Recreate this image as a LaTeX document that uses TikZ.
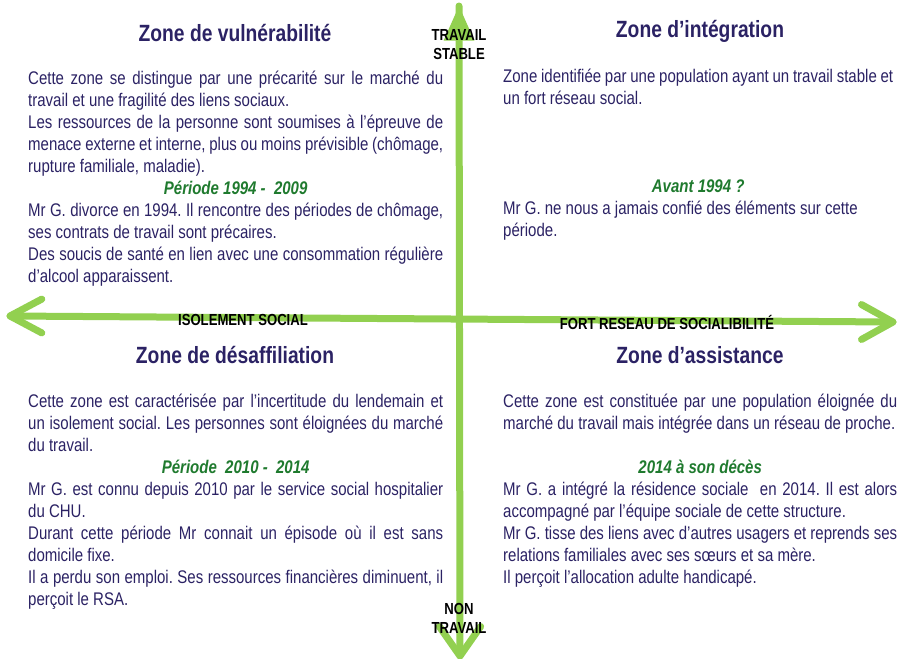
\documentclass[tikz,border=0pt]{standalone}
\usepackage{fontspec}
\setmainfont{Liberation Sans}[FakeStretch=0.82]
\definecolor{axisgreen}{HTML}{92D050}
\definecolor{zonenavy}{HTML}{2B2264}
\definecolor{periodgreen}{HTML}{1F7A2E}
\newcommand{\period}{\centering\color{periodgreen}\bfseries\itshape}
\tikzset{
  axis/.style = {draw=axisgreen, line width=7pt, line cap=round, line join=round},
  zonetitle/.style = {font=\bfseries\fontsize{23.5}{28}\selectfont, text=zonenavy, anchor=base},
  zonetext/.style = {font=\fontsize{18.3}{22}\selectfont, text=zonenavy, align=justify,
    inner sep=0pt, anchor=base west},
  axislabel/.style = {font=\bfseries\fontsize{16}{19}\selectfont, align=center, anchor=base}
}
\hyphenpenalty=10000
\frenchspacing

\begin{document}
\begin{tikzpicture}[x=1pt,y=-1pt]
  \useasboundingbox (0,0) rectangle (903,659);
  \pgfmathsetmacro{\barb}{36}
  % axes
  \coordinate (west) at (10,316);
  \coordinate (east) at (893,322);
  \coordinate (north) at (459,6);
  \coordinate (south) at (460,656);
  \draw[axis] (west) -- (east);
  \draw[axis] (north) -- (south);
  \foreach \tip/\dir/\spread in {west/0/28, east/180/29, south/270/35} {%
    \draw[axis] ([shift={(\dir+\spread:\barb)}]\tip) -- (\tip) -- ([shift={(\dir-\spread:\barb)}]\tip);
  }
  \fill[axisgreen] (north) -- +(90+24:38) -- +(90-24:38) -- cycle;
  \node[axislabel] (stable) at (459,59) {TRAVAIL\\STABLE};
  \node[axislabel] (nowork) at (459,633) {NON\\TRAVAIL};
  \node[axislabel] (isolation) at (243,325) {ISOLEMENT SOCIAL};
  \node[axislabel] (network) at (667,329) {FORT RESEAU DE SOCIALIBILITÉ};
  % zone titles
  \node[zonetitle] (vulntitle) at (235,41) {Zone de vulnérabilité};
  \node[zonetitle] (integtitle) at (700,37) {Zone d’intégration};
  \node[zonetitle] (desaftitle) at (235,363) {Zone de désaffiliation};
  \node[zonetitle] (assisttitle) at (700,363) {Zone d’assistance};
  % zone texts
  \node[zonetext, text width=415pt] (vulntext) at (28,84) {%
    Cette zone se distingue par une précarité sur le marché du\linebreak
    travail et une fragilité des liens sociaux.\par
    Les ressources de la personne sont soumises à l’épreuve de\linebreak
    menace externe et interne, plus ou moins prévisible (chômage,\linebreak
    rupture familiale, maladie).\par
    {\period Période 1994 -\ \ 2009\par}
    Mr G. divorce en 1994. Il rencontre des périodes de chômage,\linebreak
    ses contrats de travail sont précaires.\par
    Des soucis de santé en lien avec une consommation régulière\linebreak
    d’alcool apparaissent.};
  \node[zonetext, text width=390pt] (integtext) at (503,82) {%
    Zone identifiée par une population ayant un travail stable et\linebreak
    un fort réseau social.\par
    \vspace{3\baselineskip}
    {\period Avant 1994 ?\par}
    Mr G. ne nous a jamais confié des éléments sur cette\\
    période.};
  \node[zonetext, text width=415pt] (desaftext) at (28,407) {%
    Cette zone est caractérisée par l’incertitude du lendemain et\linebreak
    un isolement social. Les personnes sont éloignées du marché\linebreak
    du travail.\par
    {\period Période\ \ 2010 -\ \ 2014\par}
    Mr G. est connu depuis 2010 par le service social hospitalier\linebreak
    du CHU.\par
    Durant cette période Mr connait un épisode où il est sans\linebreak
    domicile fixe.\par
    Il a perdu son emploi. Ses ressources financières diminuent, il\linebreak
    perçoit le RSA.};
  \node[zonetext, text width=394pt] (assisttext) at (503,407) {%
    Cette zone est constituée par une population éloignée du\linebreak
    marché du travail mais intégrée dans un réseau de proche.\par
    \vspace{\baselineskip}
    {\period 2014 à son décès\par}
    Mr G. a intégré la résidence sociale\ \ en 2014. Il est alors\linebreak
    accompagné par l’équipe sociale de cette structure.\par
    Mr G. tisse des liens avec d’autres usagers et reprends ses\linebreak
    relations familiales avec ses sœurs et sa mère.\par
    Il perçoit l’allocation adulte handicapé.};
\end{tikzpicture}
\end{document}
